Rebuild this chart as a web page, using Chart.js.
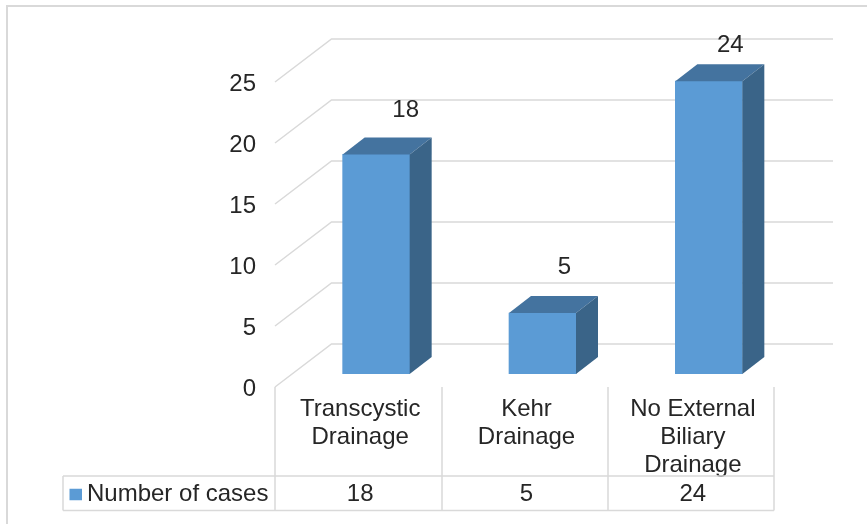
<!DOCTYPE html>
<html>
<head>
<meta charset="utf-8">
<title>Number of cases</title>
<script src="https://cdn.jsdelivr.net/npm/chart.js@4/dist/chart.umd.js"></script>
<style>
    html, body { margin: 0; padding: 0; background: #fff; overflow: hidden; }
    canvas { display: block; }
</style>
</head>
<body>
<canvas id="casesChart" width="867" height="524"></canvas>
<script>
const categories = [['Transcystic', 'Drainage'], ['Kehr', 'Drainage'], ['No External', 'Biliary', 'Drainage']];
const seriesName = 'Number of cases';
const cases = [18, 5, 24];
const valueTicks = [0, 5, 10, 15, 20, 25];

const FONT = '"Liberation Sans", Arial, sans-serif';
const TEXT = '#262626';
const LINE = '#d9d9d9';
const FRONT = '#5b9bd5';
const TOP_FACE = '#44739f';
const SIDE_FACE = '#3a6488';

// how far the bars go "into" the page
const DEPTH_X = 22;
const DEPTH_Y = 17;

// the back wall and the floor edge sit above and below the bar plane
const WALL = { left: 331.5, right: 833, lift: 30 };
const FLOOR = { left: 275, drop: 13 };
const TABLE = { left: 63, top: 476, bottom: 510.5, cols: [275, 442, 608, 774] };

// table cells and category labels are centred left of the bars
const CELL_SHIFT = -16;

// where each value label sits relative to its bar top
const labelShift = [29.5, 22, 21.5];
const labelLift = [44, 46, 36];

function strokeLine(ctx, points) {
    ctx.beginPath();
    points.forEach(([x, y], i) => i ? ctx.lineTo(x, y) : ctx.moveTo(x, y));
    ctx.stroke();
}

function fillFace(ctx, points, color) {
    ctx.beginPath();
    points.forEach(([x, y], i) => i ? ctx.lineTo(x, y) : ctx.moveTo(x, y));
    ctx.closePath();
    ctx.fillStyle = color;
    ctx.fill();
}

const frame3d = {
    id: 'frame3d',
    beforeDatasetsDraw(chart) {
        const { ctx, scales: { y } } = chart;
        ctx.save();
        ctx.strokeStyle = LINE;

        // outer chart border, cut off by the page on the right and bottom
        ctx.lineWidth = 2;
        strokeLine(ctx, [[7, 524], [7, 6], [867, 6]]);

        ctx.lineWidth = 1.5;
        valueTicks.forEach(v => {
            const py = y.getPixelForValue(v);
            strokeLine(ctx, [
                [FLOOR.left, py + FLOOR.drop],
                [WALL.left, py - WALL.lift],
                [WALL.right, py - WALL.lift]
            ]);
        });
        ctx.restore();
    }
};

const bars3d = {
    id: 'bars3d',
    afterDatasetsDraw(chart) {
        const { ctx } = chart;
        ctx.save();
        chart.getDatasetMeta(0).data.forEach(bar => {
            const l = bar.x - bar.width / 2;
            const r = bar.x + bar.width / 2;
            fillFace(ctx, [[l, bar.y], [l + DEPTH_X, bar.y - DEPTH_Y], [r + DEPTH_X, bar.y - DEPTH_Y], [r, bar.y]], TOP_FACE);
            fillFace(ctx, [[r, bar.y], [r + DEPTH_X, bar.y - DEPTH_Y], [r + DEPTH_X, bar.base - DEPTH_Y], [r, bar.base]], SIDE_FACE);
        });

        // value labels above the bars
        ctx.font = '24px ' + FONT;
        ctx.fillStyle = TEXT;
        ctx.textAlign = 'center';
        ctx.textBaseline = 'middle';
        chart.getDatasetMeta(0).data.forEach((bar, i) => {
            ctx.fillText(String(cases[i]), bar.x + labelShift[i], bar.y - labelLift[i]);
        });
        ctx.restore();
    }
};

const dataTable = {
    id: 'dataTable',
    afterDraw(chart) {
        const { ctx, scales: { x, y } } = chart;
        const floorY = y.getPixelForValue(0) + FLOOR.drop;
        const cols = TABLE.cols;
        ctx.save();
        ctx.strokeStyle = LINE;
        ctx.lineWidth = 1.5;

        // column rules start at the floor edge, the first cell only spans the last row
        cols.forEach(col => strokeLine(ctx, [[col, floorY], [col, TABLE.bottom]]));
        strokeLine(ctx, [[TABLE.left, TABLE.top], [cols[3], TABLE.top]]);
        strokeLine(ctx, [[TABLE.left, TABLE.bottom], [cols[3], TABLE.bottom]]);
        strokeLine(ctx, [[TABLE.left, TABLE.top], [TABLE.left, TABLE.bottom]]);

        const rowY = (TABLE.top + TABLE.bottom) / 2 + 1;
        ctx.fillStyle = FRONT;
        ctx.fillRect(69.5, rowY - 5.5, 12.5, 11.5);

        ctx.font = '24px ' + FONT;
        ctx.fillStyle = TEXT;
        ctx.textBaseline = 'middle';
        ctx.textAlign = 'left';
        ctx.fillText(seriesName, 87, rowY);
        ctx.textAlign = 'center';
        cases.forEach((v, i) => ctx.fillText(String(v), x.getPixelForValue(i) + CELL_SHIFT, rowY));
        ctx.restore();
    }
};

new Chart(document.querySelector('#casesChart'), {
    type: 'bar',
    data: {
        labels: categories,
        datasets: [{
            label: seriesName,
            data: cases,
            backgroundColor: FRONT,
            barThickness: 67
        }]
    },
    options: {
        responsive: false,
        animation: false,
        layout: { padding: { top: 69, right: 75, bottom: 0, left: 0 } },
        plugins: { legend: { display: false }, tooltip: { enabled: false } },
        scales: {
            x: {
                grid: { display: false },
                border: { display: false },
                afterFit: scale => { scale.height = 150; },
                ticks: {
                    color: TEXT,
                    font: { family: FONT, size: 24, lineHeight: 1.15 },
                    maxRotation: 0,
                    autoSkip: false,
                    padding: 14,
                    labelOffset: CELL_SHIFT
                }
            },
            y: {
                min: 0,
                max: 25,
                grid: { display: false },
                border: { display: false },
                afterFit: scale => { scale.width = 293; },
                afterBuildTicks: scale => { scale.ticks = valueTicks.map(value => ({ value })); },
                ticks: {
                    color: TEXT,
                    font: { family: FONT, size: 24 },
                    padding: 29,
                    labelOffset: 15
                }
            }
        }
    },
    plugins: [frame3d, bars3d, dataTable]
});
</script>
</body>
</html>
